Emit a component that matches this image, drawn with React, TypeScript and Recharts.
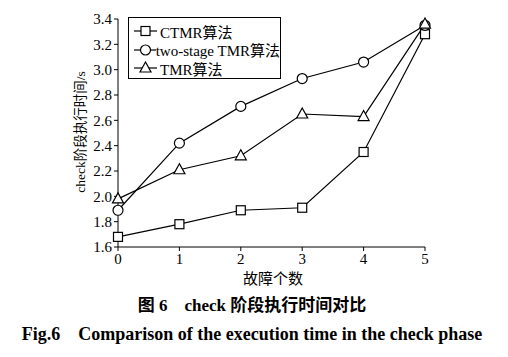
import React from 'react';
import { LineChart, Line, XAxis, YAxis } from 'recharts';

const faults = [0, 1, 2, 3, 4, 5];
const ctmr = [1.68, 1.78, 1.89, 1.91, 2.35, 3.28];
const twoStage = [1.89, 2.42, 2.71, 2.93, 3.06, 3.35];
const tmr = [1.98, 2.21, 2.32, 2.65, 2.63, 3.36];
const yTicks = [1.6, 1.8, 2.0, 2.2, 2.4, 2.6, 2.8, 3.0, 3.2, 3.4];

const data = faults.map((f, i) => ({ f, ctmr: ctmr[i], two: twoStage[i], tmr: tmr[i] }));

const FONT = '"Liberation Serif", "Times New Roman", "Noto Sans CJK SC", serif';

const Square = (props: any) => {
  const { cx, cy } = props;
  if (cx == null || cy == null) return null;
  return <rect x={cx - 4.5} y={cy - 4.5} width={9} height={9} fill="#fff" stroke="#000" strokeWidth={1.2} />;
};
const Circ = (props: any) => {
  const { cx, cy } = props;
  if (cx == null || cy == null) return null;
  return <circle cx={cx} cy={cy} r={5} fill="#fff" stroke="#000" strokeWidth={1.2} />;
};
const Tri = (props: any) => {
  const { cx, cy } = props;
  if (cx == null || cy == null) return null;
  return <polygon points={`${cx},${cy - 6} ${cx - 5.5},${cy + 4} ${cx + 5.5},${cy + 4}`} fill="#fff" stroke="#000" strokeWidth={1.2} />;
};

const legendItems = [
  { name: 'CTMR算法', Icon: Square },
  { name: 'two-stage TMR算法', Icon: Circ },
  { name: 'TMR算法', Icon: Tri },
];

const LegendBox = () => (
  <div style={{ position: 'absolute', left: 128, top: 17, border: '1.2px solid #000', width: 153, height: 62, boxSizing: 'border-box', background: '#fff', paddingTop: 4 }}>
    {legendItems.map(({ name, Icon }) => (
      <div key={name} style={{ display: 'flex', alignItems: 'center', height: 18.5, fontFamily: FONT, fontSize: 15, color: '#000' }}>
        <svg width={28} height={14} style={{ marginLeft: 3 }}>
          <line x1={2} y1={7} x2={25} y2={7} stroke="#000" strokeWidth={1.2} />
          <Icon cx={13.5} cy={7} />
        </svg>
        <span style={{ marginLeft: 0, whiteSpace: 'nowrap' }}>{name}</span>
      </div>
    ))}
  </div>
);

export default function App() {
  return (
    <div style={{ position: 'absolute', left: 0, top: 0, width: 508, height: 357, background: '#fff' }}>
      <LineChart width={508} height={290} data={data} margin={{ top: 19, right: 83, left: 78, bottom: 13 }}>
        <XAxis
          dataKey="f"
          type="number"
          domain={[0, 5]}
          ticks={faults}
          interval={0}
          height={30}
          stroke="#000"
          tickSize={4}
          tick={{ fill: '#000', fontSize: 15, fontFamily: FONT }}
        />
        <YAxis
          type="number"
          domain={[1.6, 3.4]}
          ticks={yTicks}
          interval={0}
          width={40}
          stroke="#000"
          tickSize={4}
          tickFormatter={(v: number) => v.toFixed(1)}
          tick={{ fill: '#000', fontSize: 15, fontFamily: FONT }}
        />
        <Line dataKey="ctmr" name="CTMR算法" stroke="#000" strokeWidth={1.2} dot={<Square />} isAnimationActive={false} />
        <Line dataKey="two" name="two-stage TMR算法" stroke="#000" strokeWidth={1.2} dot={<Circ />} isAnimationActive={false} />
        <Line dataKey="tmr" name="TMR算法" stroke="#000" strokeWidth={1.2} dot={<Tri />} isAnimationActive={false} />
      </LineChart>
      <LegendBox />
      <div style={{ position: 'absolute', left: 81, top: 132, transform: 'translate(-50%, -50%) rotate(-90deg)', whiteSpace: 'nowrap', fontFamily: FONT, fontSize: 13.5, lineHeight: '14px', color: '#000' }}>
        check阶段执行时间/s
      </div>
      <div style={{ position: 'absolute', left: 273, top: 277, transform: 'translate(-50%, -50%)', whiteSpace: 'nowrap', fontFamily: FONT, fontSize: 15, color: '#000' }}>
        故障个数
      </div>
      <div style={{ position: 'absolute', left: 252, top: 303, transform: 'translate(-50%, -50%)', whiteSpace: 'nowrap', fontFamily: FONT, fontSize: 17, fontWeight: 'bold', color: '#000' }}>
        图 6&nbsp;&nbsp;&nbsp;&nbsp;check 阶段执行时间对比
      </div>
      <div style={{ position: 'absolute', left: 252, top: 334, transform: 'translate(-50%, -50%)', whiteSpace: 'nowrap', fontFamily: FONT, fontSize: 18, fontWeight: 'bold', color: '#000' }}>
        Fig.6&nbsp;&nbsp;&nbsp;&nbsp;Comparison of the execution time in the check phase
      </div>
    </div>
  );
}
